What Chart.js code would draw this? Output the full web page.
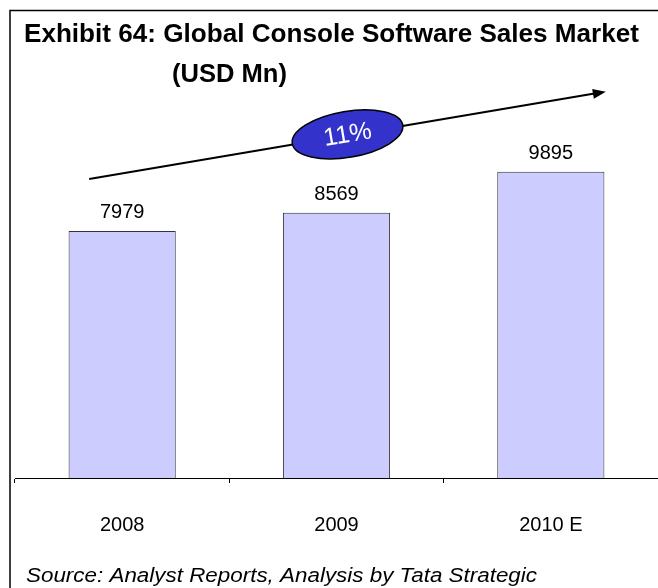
<!DOCTYPE html>
<html>
<head>
<meta charset="utf-8">
<script src="https://cdn.jsdelivr.net/npm/chart.js@4/dist/chart.umd.min.js"></script>
<style>
  html, body { margin: 0; padding: 0; background: #fff; }
  #wrap { width: 658px; height: 588px; position: relative; }
</style>
</head>
<body>
<div id="wrap"><canvas id="salesChart"></canvas></div>
<script>
const years = ["2008", "2009", "2010 E"];
const sales = [7979, 8569, 9895];
const growthLabel = "11%";
const titleLine1 = "Exhibit 64: Global Console Software Sales Market";
const titleLine2 = "(USD Mn)";
const sourceText = "Source: Analyst Reports, Analysis by Tata Strategic";

const FONT = "'Liberation Sans', Arial, Helvetica, sans-serif";

// text squeezed/stretched to a given width
function fitText(ctx, text, x, y, width) {
    const w = ctx.measureText(text).width;
    ctx.save();
    ctx.translate(x, y);
    ctx.scale(width / w, 1);
    ctx.fillText(text, 0, 0);
    ctx.restore();
}

const decorPlugin = {
    id: "decor",
    beforeDraw(chart) {
        const ctx = chart.ctx;
        ctx.save();
        ctx.fillStyle = "#fff";
        ctx.fillRect(0, 0, chart.width, chart.height);
        ctx.restore();
    },
    afterDatasetsDraw(chart) {
        const ctx = chart.ctx;
        const bars = chart.getDatasetMeta(0).data;

        // value labels over the bars
        ctx.save();
        ctx.fillStyle = "#000";
        ctx.font = "20px " + FONT;
        ctx.textAlign = "center";
        ctx.textBaseline = "alphabetic";
        bars.forEach((b, i) => ctx.fillText(String(sales[i]), b.x, b.y - 13));
        ctx.restore();

        // growth arrow
        const x0 = bars[0].x - 33, y0 = bars[0].y - 52;
        const x1 = bars[2].x + 55, y1 = bars[2].y - 80;
        const ang = Math.atan2(y1 - y0, x1 - x0);
        ctx.save();
        ctx.strokeStyle = "#000";
        ctx.fillStyle = "#000";
        ctx.lineWidth = 2;
        ctx.beginPath();
        ctx.moveTo(x0, y0);
        ctx.lineTo(x1 - 10 * Math.cos(ang), y1 - 10 * Math.sin(ang));
        ctx.stroke();
        ctx.translate(x1, y1);
        ctx.rotate(ang);
        ctx.beginPath();
        ctx.moveTo(0, 0);
        ctx.lineTo(-13, -5);
        ctx.lineTo(-13, 5);
        ctx.closePath();
        ctx.fill();
        ctx.restore();

        // CAGR bubble
        const cx = (x0 + x1) / 2, cy = (y0 + y1) / 2 - 1;
        ctx.save();
        ctx.translate(cx, cy);
        ctx.rotate(ang);
        ctx.beginPath();
        ctx.ellipse(0, 0, 56, 23, 0, 0, Math.PI * 2);
        ctx.fillStyle = "#3333cc";
        ctx.fill();
        ctx.lineWidth = 1.5;
        ctx.strokeStyle = "#000";
        ctx.stroke();
        ctx.fillStyle = "#fff";
        ctx.font = "25px " + FONT;
        ctx.textAlign = "center";
        ctx.textBaseline = "middle";
        ctx.fillText(growthLabel, 0, 1);
        ctx.restore();
    },
    afterDraw(chart) {
        const ctx = chart.ctx;
        ctx.save();
        // frame
        ctx.strokeStyle = "#000";
        ctx.lineWidth = 1.5;
        ctx.beginPath();
        ctx.moveTo(10, chart.height);
        ctx.lineTo(10, 10.5);
        ctx.lineTo(chart.width, 10.5);
        ctx.stroke();

        // title
        ctx.fillStyle = "#000";
        ctx.textAlign = "left";
        ctx.textBaseline = "alphabetic";
        ctx.font = "bold 25px " + FONT;
        fitText(ctx, titleLine1, 24, 42, 615);
        ctx.font = "bold 26px " + FONT;
        fitText(ctx, titleLine2, 172, 82, 115);

        // source
        ctx.font = "italic 20px " + FONT;
        fitText(ctx, sourceText, 26, 582, 511);
        ctx.restore();
    }
};

const ctx = document.getElementById("salesChart").getContext("2d");
const salesChart = new Chart(ctx, {
    type: "bar",
    data: {
        labels: years,
        datasets: [{
            data: sales,
            backgroundColor: "#ccccff",
            borderColor: "#333333",
            borderWidth: 1,
            categoryPercentage: 1,
            barPercentage: 0.5
        }]
    },
    options: {
        responsive: true,
        maintainAspectRatio: false,
        animation: false,
        layout: { padding: { left: 15, right: 0, top: 106.5, bottom: 0 } },
        plugins: {
            legend: { display: false },
            title: { display: false },
            tooltip: { enabled: false }
        },
        scales: {
            x: {
                offset: true,
                afterFit: (scale) => { scale.height = 110; },
                grid: {
                    offset: true,
                    drawOnChartArea: false,
                    drawTicks: true,
                    tickLength: 5,
                    color: "#000"
                },
                border: { display: true, color: "#000", width: 1 },
                ticks: {
                    color: "#000",
                    padding: 30,
                    font: { size: 20, family: FONT }
                }
            },
            y: {
                display: false,
                min: 0,
                max: 12000
            }
        }
    },
    plugins: [decorPlugin]
});
</script>
</body>
</html>
